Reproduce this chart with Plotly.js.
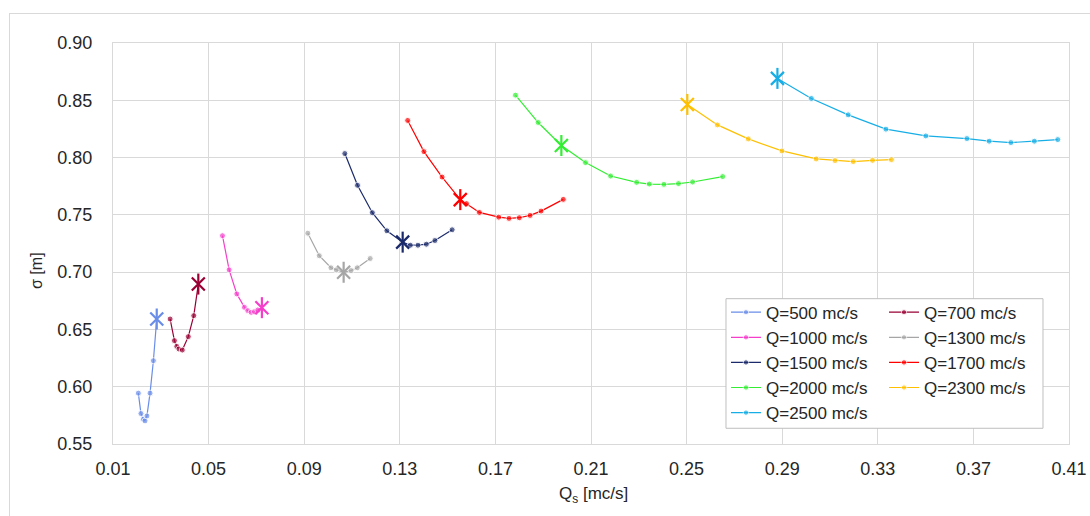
<!DOCTYPE html>
<html>
<head>
<meta charset="utf-8">
<script src="https://cdn.plot.ly/plotly-3.0.1.min.js"></script>
<style>
  html, body { margin: 0; padding: 0; background: #ffffff; overflow: hidden; }
  #frame { position: absolute; left: 9px; top: 13px; width: 1100px; height: 520px;
           border: 1px solid #d9d9d9; box-sizing: border-box; }
  #chart { position: absolute; left: 0; top: 0; width: 1090px; height: 516px; }
</style>
</head>
<body>
<div id="frame"></div>
<div id="chart"></div>
<script>
// Discharge labels for each curve
const seriesNames = ['Q=500 mc/s', 'Q=700 mc/s', 'Q=1000 mc/s', 'Q=1300 mc/s', 'Q=1500 mc/s',
                     'Q=1700 mc/s', 'Q=2000 mc/s', 'Q=2300 mc/s', 'Q=2500 mc/s'];

// Qs [mc/s] values for each curve
const qs500  = [0.0206, 0.0217, 0.0227, 0.0234, 0.0242, 0.0255, 0.0269, 0.0283];
const qs700  = [0.0339, 0.0357, 0.0367, 0.0376, 0.0390, 0.0415, 0.0438, 0.0457];
const qs1000 = [0.0558, 0.0586, 0.0618, 0.0650, 0.0664, 0.0678, 0.0692, 0.0706, 0.0723];
const qs1300 = [0.0915, 0.0963, 0.1012, 0.1034, 0.1065, 0.1096, 0.1122, 0.1176];
const qs1500 = [0.1070, 0.1123, 0.1185, 0.1246, 0.1312, 0.1344, 0.1376, 0.1411, 0.1447, 0.1519];
const qs1700 = [0.1333, 0.1401, 0.1477, 0.1553, 0.1579, 0.1633, 0.1714, 0.1757, 0.1800, 0.1845, 0.1891, 0.1984];
const qs2000 = [0.1784, 0.1879, 0.1976, 0.2077, 0.2182, 0.2291, 0.2344, 0.2405, 0.2466, 0.2525, 0.2651];
const qs2300 = [0.2503, 0.2629, 0.2758, 0.2899, 0.3042, 0.3121, 0.3197, 0.3278, 0.3357];
const qs2500 = [0.2880, 0.3022, 0.3176, 0.3334, 0.3501, 0.3673, 0.3766, 0.3857, 0.3955, 0.4053];

// sigma [m] values for each curve
const sig500  = [0.5944, 0.5766, 0.5716, 0.5702, 0.5745, 0.5944, 0.6227, 0.6591];
const sig700  = [0.6591, 0.6402, 0.6352, 0.6329, 0.6320, 0.6437, 0.6620, 0.6896];
const sig1000 = [0.7318, 0.7020, 0.6810, 0.6693, 0.6664, 0.6649, 0.6655, 0.6670, 0.6690];
const sig1300 = [0.7340, 0.7143, 0.7038, 0.7020, 0.6999, 0.7014, 0.7038, 0.7119];
const sig1500 = [0.8035, 0.7758, 0.7519, 0.7361, 0.7262, 0.7235, 0.7235, 0.7244, 0.7276, 0.7370];
const sig1700 = [0.8324, 0.8052, 0.7830, 0.7633, 0.7598, 0.7521, 0.7480, 0.7469, 0.7475, 0.7495, 0.7533, 0.7635];
const sig2000 = [0.8545, 0.8306, 0.8105, 0.7956, 0.7839, 0.7784, 0.7769, 0.7766, 0.7773, 0.7787, 0.7834];
const sig2300 = [0.8464, 0.8285, 0.8163, 0.8058, 0.7988, 0.7974, 0.7965, 0.7976, 0.7982];
const sig2500 = [0.8691, 0.8516, 0.8373, 0.8248, 0.8189, 0.8166, 0.8143, 0.8131, 0.8143, 0.8157];

// Index of the highlighted (asterisk) point on each curve
const markedIndex = [7, 7, 8, 4, 4, 3, 2, 0, 0];

// Axis ticks
const xTicks = [0.01, 0.05, 0.09, 0.13, 0.17, 0.21, 0.25, 0.29, 0.33, 0.37, 0.41];
const yTicks = [0.55, 0.60, 0.65, 0.70, 0.75, 0.80, 0.85, 0.90];

const colors = ['#6a8de8', '#990033', '#f53fcb', '#a6a6a6', '#1b2a6b',
                '#ff0000', '#33ee33', '#ffc000', '#17aee6'];
// left legend column: 500, 1000, 1500, 2000, 2500; right column: the rest
const legendOf = ['legend', 'legend2', 'legend', 'legend2', 'legend',
                  'legend2', 'legend', 'legend2', 'legend'];

const xs = [qs500, qs700, qs1000, qs1300, qs1500, qs1700, qs2000, qs2300, qs2500];
const ys = [sig500, sig700, sig1000, sig1300, sig1500, sig1700, sig2000, sig2300, sig2500];

const lineTraces = [];
const starTraces = [];
const order = [0, 2, 4, 6, 8, 1, 3, 5, 7];
order.forEach(function (i) {
  const sizes = xs[i].map(function (_, k) { return k === markedIndex[i] ? 0 : 6; });
  lineTraces.push({
    type: 'scatter', mode: 'lines+markers', name: seriesNames[i],
    x: xs[i], y: ys[i], legend: legendOf[i],
    line: { color: colors[i], width: 1.2 },
    marker: { color: colors[i], size: sizes, symbol: 'circle' },
    hoverinfo: 'x+y+name'
  });
});
// asterisk = thin "x" plus a vertical bar, in the curve's colour
for (let i = 0; i < xs.length; i++) {
  const mx = [xs[i][markedIndex[i]]];
  const my = [ys[i][markedIndex[i]]];
  ['x-thin-open', 'line-ns-open'].forEach(function (sym, j) {
    starTraces.push({
      type: 'scatter', mode: 'markers', x: mx, y: my, showlegend: false,
      marker: { symbol: sym, size: j === 0 ? 13 : 15, color: colors[i],
                line: { color: colors[i], width: 2.2 } },
      hoverinfo: 'skip'
    });
  });
}

const axisFont = { family: 'Liberation Sans, Arial, sans-serif', size: 18, color: '#262626' };
const legendFont = { family: 'Liberation Sans, Arial, sans-serif', size: 17, color: '#262626' };

const layout = {
  width: 1090, height: 516,
  margin: { l: 113, r: 21, t: 43, b: 72 },
  paper_bgcolor: 'rgba(0,0,0,0)', plot_bgcolor: '#ffffff',
  font: { family: 'Liberation Sans, Arial, sans-serif', color: '#262626' },
  xaxis: {
    range: [0.01, 0.41], tickvals: xTicks, ticktext: xTicks.map(function (v) { return v.toFixed(2); }),
    showgrid: true, gridcolor: '#d9d9d9', gridwidth: 1,
    showline: true, mirror: true, linecolor: '#d9d9d9', linewidth: 1,
    zeroline: false, ticks: '', tickfont: axisFont, ticklabelstandoff: 8
  },
  yaxis: {
    range: [0.55, 0.90], tickvals: yTicks, ticktext: yTicks.map(function (v) { return v.toFixed(2); }),
    showgrid: true, gridcolor: '#d9d9d9', gridwidth: 1,
    showline: true, mirror: true, linecolor: '#d9d9d9', linewidth: 1,
    zeroline: false, ticks: '', tickfont: axisFont, ticklabelstandoff: 16
  },
  annotations: [
    { text: 'σ [m]', xref: 'paper', yref: 'paper', x: -0.0795, y: 0.434,
      xanchor: 'center', yanchor: 'middle', textangle: -90, showarrow: false,
      font: { family: 'Liberation Sans, Arial, sans-serif', size: 16, color: '#262626' } },
    { text: 'Q<sub>s</sub> [mc/s]', xref: 'paper', yref: 'paper', x: 0.503, y: -0.127,
      xanchor: 'center', yanchor: 'middle', showarrow: false,
      font: { family: 'Liberation Sans, Arial, sans-serif', size: 17, color: '#262626' } }
  ],
  shapes: [
    { type: 'rect', xref: 'paper', yref: 'paper', layer: 'above',
      x0: 0.6412, x1: 0.9728, y0: 0.0392, y1: 0.3624,
      fillcolor: '#ffffff', line: { color: '#bfbfbf', width: 1 } }
  ],
  legend: {
    x: 0.6412, xanchor: 'left', y: 0.3724, yanchor: 'top',
    bgcolor: 'rgba(0,0,0,0)', borderwidth: 0, tracegroupgap: 0, font: legendFont
  },
  legend2: {
    x: 0.8065, xanchor: 'left', y: 0.3724, yanchor: 'top',
    bgcolor: 'rgba(0,0,0,0)', borderwidth: 0, tracegroupgap: 0, font: legendFont
  },
  showlegend: true
};

Plotly.newPlot('chart', lineTraces.concat(starTraces), layout, { displayModeBar: false, staticPlot: true });
</script>
</body>
</html>
